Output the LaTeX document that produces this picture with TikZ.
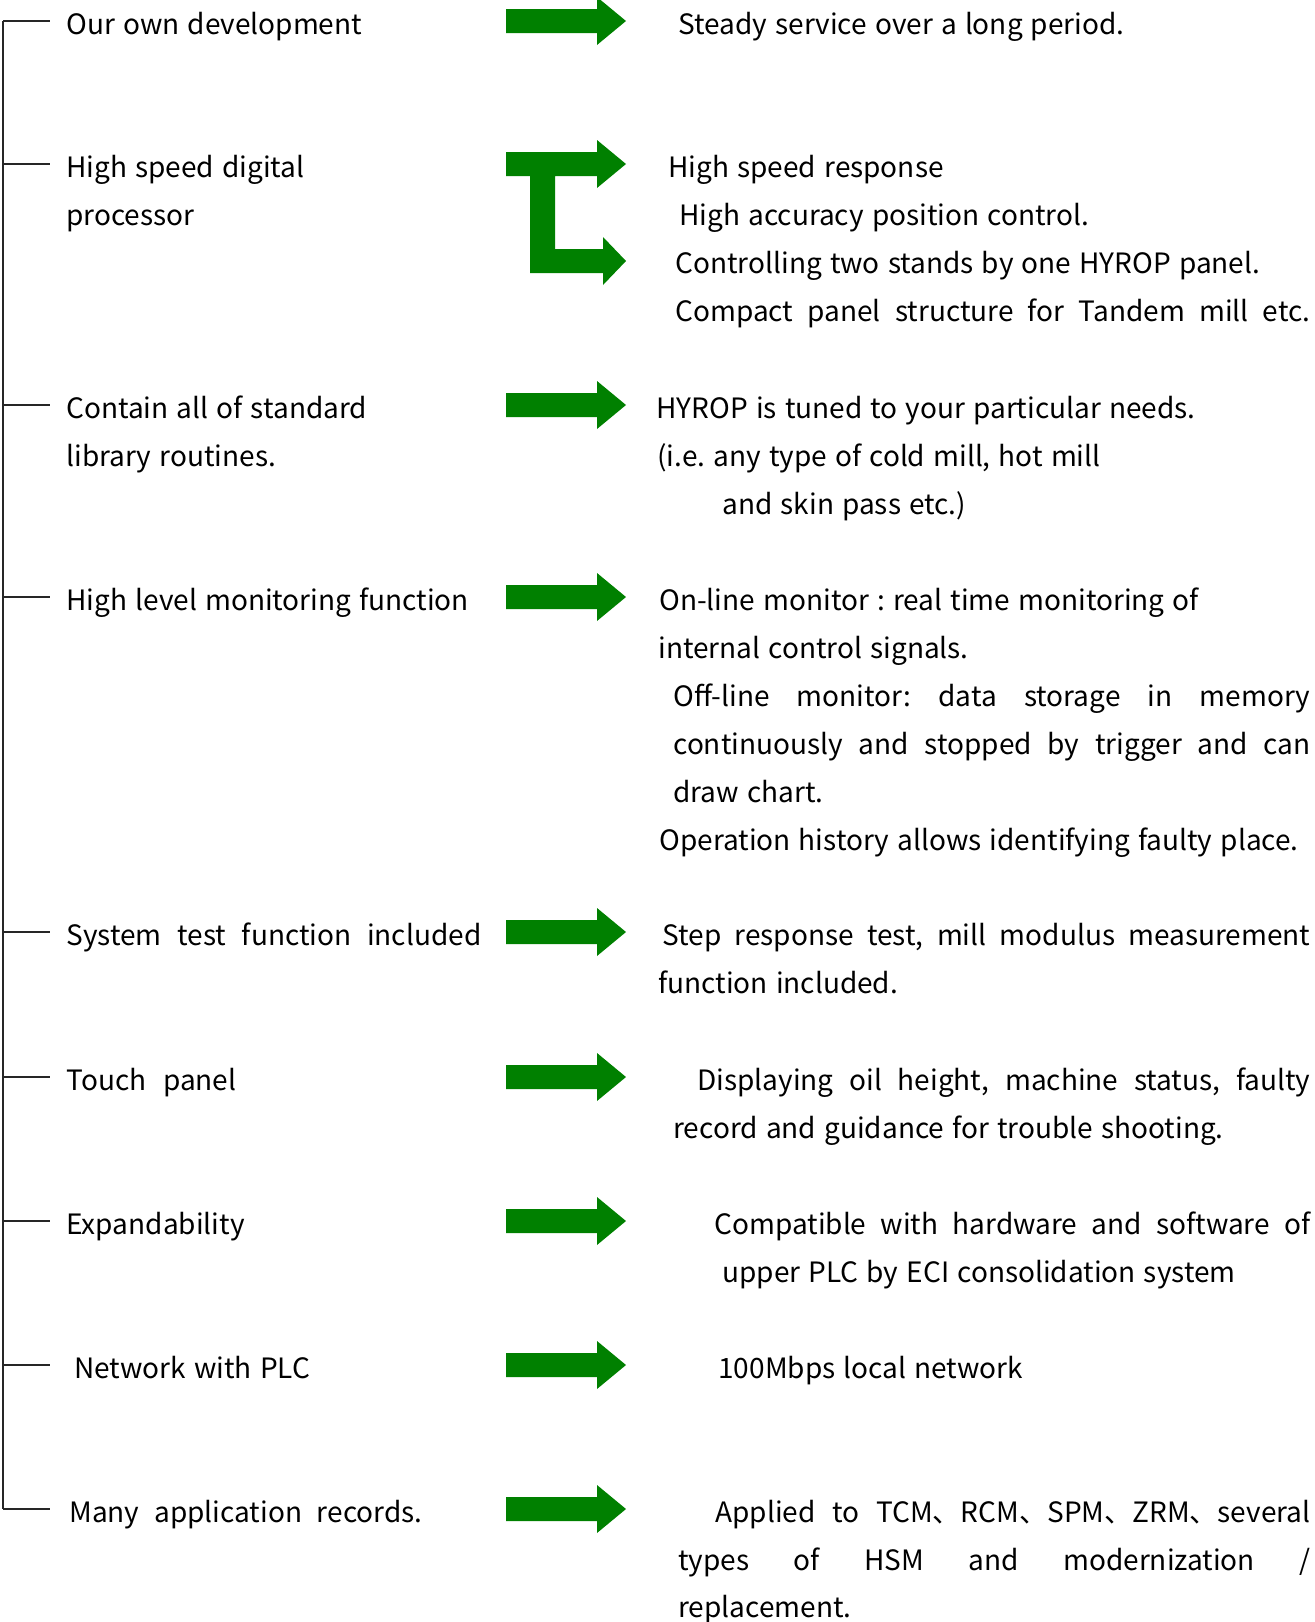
\documentclass[tikz,border=0pt]{standalone}
\usepackage{fontspec}
\setmainfont{Noto Sans CJK JP}[WordSpace=1.3]
\usetikzlibrary{calc}
\definecolor{arrowgreen}{RGB}{0,128,0}
\newlength\px
\setlength\px{0.5pt}
\frenchspacing

\begin{document}
\begin{tikzpicture}[x=0.5pt, y=-0.5pt, font=\fontsize{14}{17}\selectfont,
  txt/.style={anchor=base west, inner sep=0pt},
  trunk/.style={line width=0.65pt, black!85}]
\useasboundingbox (0,0) rectangle (1314,1622);

% Tree on the left
\draw[trunk] (3,21) -- (3,1509);
\foreach \b in {32,175,416,608,943,1088,1232,1376,1520}
  \draw[trunk] (3,\b-11) -- (50,\b-11);

% Green arrows
\foreach \b in {32,416,608,943,1088,1232,1376,1520}
  \fill[arrowgreen] (506,\b-23) -- (597,\b-23) -- (597,\b-35) -- (626,\b-11)
    -- (597,\b+13) -- (597,\b+1) -- (506,\b+1) -- cycle;

% Split arrow
\fill[arrowgreen] (506,152) -- (597,152) -- (597,140) -- (626,164) -- (597,188)
  -- (597,176) -- (555,176) -- (555,249) -- (603,249) -- (603,237) -- (626,261)
  -- (603,285) -- (603,273) -- (530,273) -- (530,176) -- (506,176) -- cycle;

% Left labels
\node[txt] (own) at (66,34) {Our own development};
\node[txt] (dsp) at (66,177) {High speed digital};
\node[txt] (dsp2) at (66,225) {processor};
\node[txt] (lib) at (66,418) {Contain all of standard};
\node[txt] (lib2) at (66,466) {library routines.};
\node[txt] (mon) at (66,610) {High level monitoring function};
\node[txt] (test) at (66,945) {\makebox[415\px][s]{System test function included}};
\node[txt] (touch) at (66,1090) {\makebox[170\px][s]{Touch panel}};
\node[txt] (expand) at (66,1234) {Expandability};
\node[txt] (net) at (74,1378) {Network with PLC};
\node[txt] (rec) at (69,1522) {\makebox[353\px][s]{Many application records.}};

% Right texts
\node[txt] (steady) at (678,34) {Steady service over a long period.};
\node[txt] (resp) at (668,177) {High speed response};
\node[txt] (acc) at (679,225) {High accuracy position control.};
\node[txt] (two) at (675,273) {Controlling two stands by one HYROP panel.};
\node[txt] (comp) at (675,321) {\makebox[635\px][s]{Compact panel structure for Tandem mill etc.}};
\node[txt] (tuned) at (656,418) {HYROP is tuned to your particular needs.};
\node[txt] (ie) at (657,466) {(i.e. any type of cold mill, hot mill};
\node[txt] (skin) at (722,514) {and skin pass etc.)};
\node[txt] (online) at (659,610) {On-line monitor : real time monitoring of};
\node[txt] (sig) at (658,658) {internal control signals.};
\node[txt] (offline) at (673,706) {\makebox[637\px][s]{Off-line monitor: data storage in memory}};
\node[txt] (cont) at (673,754) {\makebox[637\px][s]{continuously and stopped by trigger and can}};
\node[txt] (chart) at (673,802) {draw chart.};
\node[txt] (hist) at (659,850) {Operation history allows identifying faulty place.};
\node[txt] (step) at (662,945) {\makebox[648\px][s]{Step response test, mill modulus measurement}};
\node[txt] (func) at (658,993) {function included.};
\node[txt] (disp) at (697,1090) {\makebox[613\px][s]{Displaying oil height, machine status, faulty}};
\node[txt] (guide) at (673,1138) {record and guidance for trouble shooting.};
\node[txt] (compat) at (714,1234) {\makebox[596\px][s]{Compatible with hardware and software of}};
\node[txt] (upper) at (722,1282) {upper PLC by ECI consolidation system};
\node[txt] (lan) at (718,1378) {100Mbps local network};
\node[txt] (appl) at (715,1522) {\makebox[595\px][s]{Applied to TCM、RCM、SPM、ZRM、several}};
\node[txt] (types) at (678,1570) {\makebox[632\px][s]{types of HSM and modernization /}};
\node[txt] (repl) at (678,1617) {replacement.};
\end{tikzpicture}
\end{document}
